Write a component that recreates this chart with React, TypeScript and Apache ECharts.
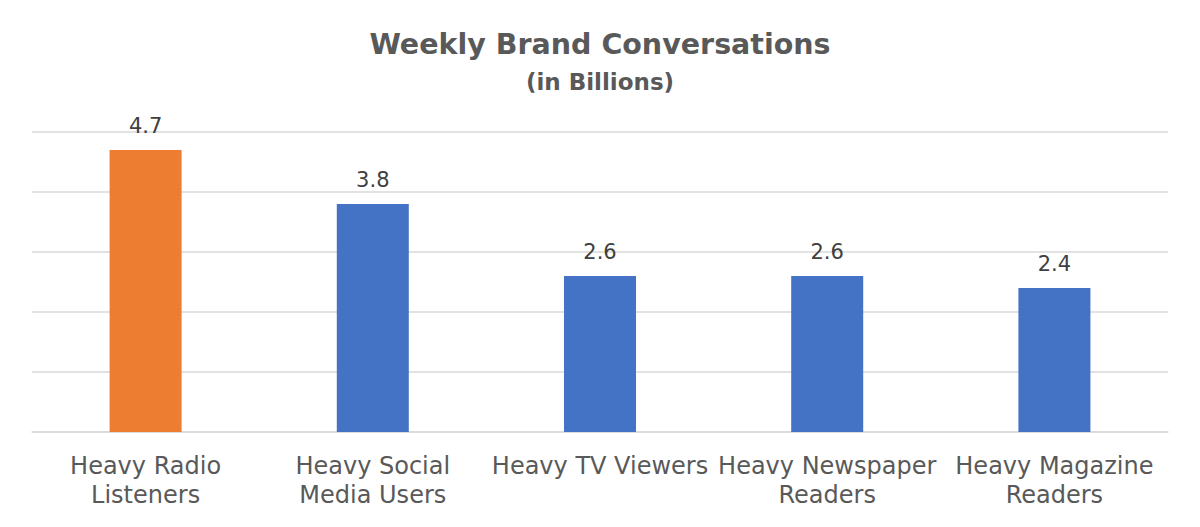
import React, { useEffect, useRef } from 'react';
import * as echarts from 'echarts';

const categories = [
  'Heavy Radio\nListeners',
  'Heavy Social\nMedia Users',
  'Heavy TV Viewers',
  'Heavy Newspaper\nReaders',
  'Heavy Magazine\nReaders',
];
const values = [4.7, 3.8, 2.6, 2.6, 2.4];
const barColors = ['#ED7D31', '#4472C4', '#4472C4', '#4472C4', '#4472C4'];

const App: React.FC = () => {
  const chartRef = useRef<HTMLDivElement>(null);

  useEffect(() => {
    document.body.style.margin = '0';
    if (!chartRef.current) return;
    const chart = echarts.init(chartRef.current, undefined, { renderer: 'svg' });

    const options: echarts.EChartsOption = {
      animation: false,
      backgroundColor: '#ffffff',
      title: [
        {
          text: 'Weekly Brand Conversations',
          left: 'center',
          top: 25,
          textStyle: { fontFamily: 'DejaVu Sans', fontSize: 28.5, fontWeight: 'bold', color: '#595959' },
        },
        {
          text: '(in Billions)',
          left: 'center',
          top: 65,
          textStyle: { fontFamily: 'DejaVu Sans', fontSize: 23, fontWeight: 'bold', color: '#595959' },
        },
      ],
      grid: { left: 32, right: 32, top: 132, bottom: 95 },
      xAxis: {
        type: 'category',
        data: categories,
        axisTick: { show: false },
        axisLine: { lineStyle: { color: '#d9d9d9', width: 1.5 } },
        axisLabel: {
          interval: 0,
          margin: 19,
          fontFamily: 'DejaVu Sans',
          fontSize: 24,
          lineHeight: 29,
          color: '#595959',
        },
      },
      yAxis: {
        type: 'value',
        min: 0,
        max: 5,
        interval: 1,
        axisLabel: { show: false },
        axisLine: { show: false },
        axisTick: { show: false },
        splitLine: { lineStyle: { color: '#d9d9d9', width: 1.5 } },
      },
      series: [
        {
          type: 'bar',
          barWidth: 72,
          data: values.map((v, i) => ({ value: v, itemStyle: { color: barColors[i] } })),
          label: {
            show: true,
            position: 'top',
            distance: 14,
            fontFamily: 'DejaVu Sans',
            fontSize: 21,
            color: '#404040',
          },
        },
      ],
    };

    chart.setOption(options);
    return () => {
      chart.dispose();
    };
  }, []);

  return <div ref={chartRef} style={{ width: 1200, height: 527 }} />;
};

export default App;
